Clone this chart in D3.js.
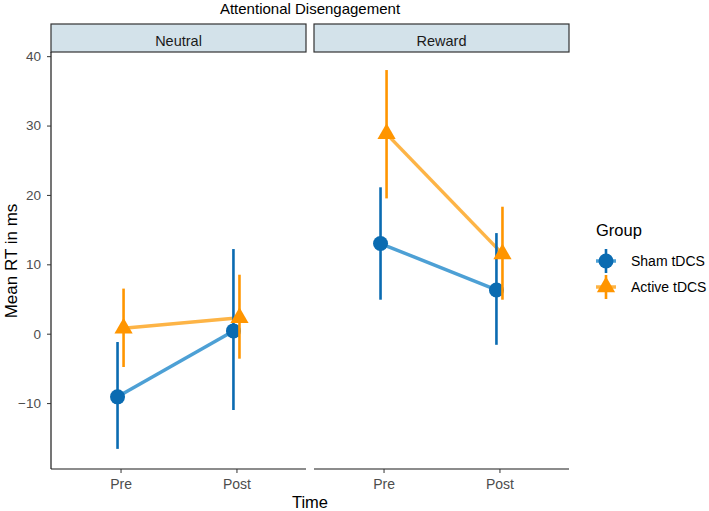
<!DOCTYPE html>
<html>
<head>
<meta charset="utf-8">
<script src="https://cdn.jsdelivr.net/npm/d3@7"></script>
<style>
  body { margin: 0; background: #fff; }
  text { font-family: "Liberation Sans", Arial, sans-serif; }
</style>
</head>
<body>
<div class="chart"></div>
<script>
const conditions = ['Neutral', 'Reward'],
  times = ['Pre', 'Post'],
  groups = ['Sham tDCS', 'Active tDCS'],
  yTicks = [-10, 0, 10, 20, 30, 40];

// values per condition: [Pre, Post]
const shamMean = [[-9.1, 0.4], [13.0, 6.3]],
  shamLow = [[-16.6, -11.0], [4.9, -1.6]],
  shamHigh = [[-1.2, 12.2], [21.1, 14.5]],
  activeMean = [[0.8, 2.3], [28.8, 11.5]],
  activeLow = [[-4.8, -3.6], [19.5, 4.9]],
  activeHigh = [[6.5, 8.5], [38.0, 18.3]];

const width = 709,
  height = 511,
  panelTop = 52,
  panelBottom = 469,
  panelLefts = [51, 314],
  panelWidth = 255,
  stripHeight = 28,
  pointColors = ['#0a6bb1', '#ff9500'],
  lineColors = ['#4da0d5', '#fdb446'],
  tickColor = '#4d4d4d';

const svg = d3.select('.chart')
  .append('svg')
  .attr('width', width)
  .attr('height', height);

const yScale = d3.scaleLinear()
  .domain([-19.5, 40.6])
  .range([panelBottom, panelTop]);

const series = [
  { group: groups[0], mean: shamMean, low: shamLow, high: shamHigh },
  { group: groups[1], mean: activeMean, low: activeLow, high: activeHigh }
];

// title
svg.append('text')
  .attr('x', 310)
  .attr('y', 14)
  .attr('text-anchor', 'middle')
  .style('font-size', '15px')
  .text('Attentional Disengagement');

// R style filled triangle, point at the centroid
const triangle = r => {
  const xc = r / 1.555 * 1.347;
  return `M0,${-r}L${xc},${r / 2}L${-xc},${r / 2}Z`;
};

conditions.forEach((cond, ci) => {
  const left = panelLefts[ci];
  const xScale = d3.scalePoint()
    .domain(times)
    .range([left, left + panelWidth])
    .padding(0.6);
  const dodge = xScale.step() * 0.026;

  const panel = svg.append('g');

  // strip
  panel.append('rect')
    .attr('x', left)
    .attr('y', panelTop - stripHeight)
    .attr('width', panelWidth)
    .attr('height', stripHeight)
    .attr('fill', '#d3e2ea')
    .attr('stroke', '#333')
    .attr('stroke-width', 1.2);

  panel.append('text')
    .attr('x', left + panelWidth / 2)
    .attr('y', panelTop - 6)
    .attr('text-anchor', 'middle')
    .style('font-size', '14.5px')
    .attr('fill', '#1a1a1a')
    .text(cond);

  // x axis
  const gx = panel.append('g')
    .attr('transform', `translate(0, ${panelBottom})`)
    .call(d3.axisBottom(xScale).tickSize(4).tickPadding(6));
  gx.select('.domain')
    .attr('d', `M${left},0H${left + panelWidth}`)
    .attr('stroke', '#1a1a1a')
    .attr('stroke-width', 1.2);
  gx.selectAll('.tick line').attr('stroke', '#333');
  gx.selectAll('.tick text')
    .attr('fill', tickColor)
    .style('font-size', '14px')
    .style('font-family', '"Liberation Sans", Arial, sans-serif');

  if (ci === 0) {
    const gy = panel.append('g')
      .attr('transform', `translate(${left}, 0)`)
      .call(d3.axisLeft(yScale).tickValues(yTicks).tickSize(4).tickPadding(6));
    gy.select('.domain')
      .attr('d', `M0,${panelTop}V${panelBottom}`)
      .attr('stroke', '#1a1a1a')
      .attr('stroke-width', 1.2);
    gy.selectAll('.tick line').attr('stroke', '#333');
    gy.selectAll('.tick text')
      .attr('fill', tickColor)
      .style('font-size', '13.5px')
      .style('font-family', '"Liberation Sans", Arial, sans-serif');
  }

  const rows = series.map((s, si) => {
    const off = si === 0 ? -dodge : dodge;
    return times.map((t, ti) => ({
      x: xScale(t) + off,
      mean: s.mean[ci][ti],
      low: s.low[ci][ti],
      high: s.high[ci][ti]
    }));
  });

  const line = d3.line()
    .x(d => d.x)
    .y(d => yScale(d.mean));

  rows.forEach((pts, si) => {
    panel.append('path')
      .attr('d', line(pts))
      .attr('stroke', lineColors[si])
      .attr('stroke-width', 3.5)
      .attr('fill', 'none');
  });

  rows.forEach((pts, si) => {
    panel.selectAll(null)
      .data(pts)
      .enter()
      .append('line')
      .attr('x1', d => d.x)
      .attr('x2', d => d.x)
      .attr('y1', d => yScale(d.low))
      .attr('y2', d => yScale(d.high))
      .attr('stroke', pointColors[si])
      .attr('stroke-width', 2.6);

    if (si === 0) {
      panel.selectAll(null)
        .data(pts)
        .enter()
        .append('circle')
        .attr('cx', d => d.x)
        .attr('cy', d => yScale(d.mean))
        .attr('r', 7.5)
        .attr('fill', pointColors[si]);
    } else {
      panel.selectAll(null)
        .data(pts)
        .enter()
        .append('path')
        .attr('transform', d => `translate(${d.x}, ${yScale(d.mean)})`)
        .attr('d', triangle(10.5))
        .attr('fill', pointColors[si]);
    }
  });
});

// axis titles
svg.append('text')
  .attr('transform', 'translate(16.5, 261) rotate(-90)')
  .attr('text-anchor', 'middle')
  .style('font-size', '17px')
  .text('Mean RT in ms');

svg.append('text')
  .attr('x', 310)
  .attr('y', 508)
  .attr('text-anchor', 'middle')
  .style('font-size', '16.5px')
  .text('Time');

// legend
const legend = svg.append('g');

legend.append('text')
  .attr('x', 596)
  .attr('y', 236)
  .style('font-size', '16.5px')
  .text('Group');

groups.forEach((g, i) => {
  const cy = 261 + i * 26,
    cx = 606;
  legend.append('line')
    .attr('x1', cx - 10).attr('x2', cx + 10)
    .attr('y1', cy).attr('y2', cy)
    .attr('stroke', lineColors[i])
    .attr('stroke-width', 3.5);
  legend.append('line')
    .attr('x1', cx).attr('x2', cx)
    .attr('y1', cy - 12).attr('y2', cy + 12)
    .attr('stroke', pointColors[i])
    .attr('stroke-width', 2.6);
  if (i === 0) {
    legend.append('circle')
      .attr('cx', cx).attr('cy', cy)
      .attr('r', 7.5)
      .attr('fill', pointColors[i]);
  } else {
    legend.append('path')
      .attr('transform', `translate(${cx}, ${cy})`)
      .attr('d', triangle(10.5))
      .attr('fill', pointColors[i]);
  }
  legend.append('text')
    .attr('x', 631)
    .attr('y', cy + 5)
    .style('font-size', '14px')
    .text(g);
});
</script>
</body>
</html>
